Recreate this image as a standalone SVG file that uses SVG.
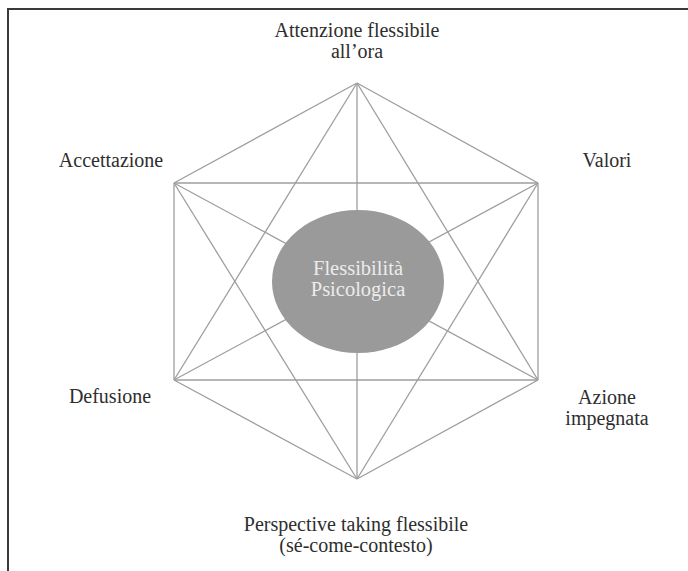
<svg xmlns="http://www.w3.org/2000/svg" width="688" height="571" viewBox="0 0 688 571">
<style>
.lbl{font-family:"Liberation Serif","Times New Roman",serif;font-size:20px;fill:#2e2e2e;text-anchor:middle}
.ctr{font-family:"Liberation Serif","Times New Roman",serif;font-size:20.5px;fill:#ececec;text-anchor:middle}
.edge{stroke:#9e9e9e;stroke-width:1.3;fill:none}
</style>
<rect x="0" y="0" width="688" height="571" fill="#ffffff"/>
<path d="M8,571 V9 H688" fill="none" stroke="#3a3a3a" stroke-width="2"/>
<g id="connectors" class="edge">
<line x1="357" y1="83" x2="174" y2="183"/>
<line x1="357" y1="83" x2="538" y2="183"/>
<line x1="357" y1="83" x2="174" y2="380"/>
<line x1="357" y1="83" x2="538" y2="380"/>
<line x1="357" y1="83" x2="357" y2="479"/>
<line x1="174" y1="183" x2="538" y2="183"/>
<line x1="174" y1="183" x2="174" y2="380"/>
<line x1="174" y1="183" x2="538" y2="380"/>
<line x1="174" y1="183" x2="357" y2="479"/>
<line x1="538" y1="183" x2="538" y2="380"/>
<line x1="538" y1="183" x2="174" y2="380"/>
<line x1="538" y1="183" x2="357" y2="479"/>
<line x1="174" y1="380" x2="538" y2="380"/>
<line x1="174" y1="380" x2="357" y2="479"/>
<line x1="538" y1="380" x2="357" y2="479"/>
</g>
<g id="center">
<ellipse cx="358" cy="281.5" rx="86" ry="71.5" fill="#9a9a9a"/>
<text class="ctr" x="358" y="275">Flessibilità</text>
<text class="ctr" x="358" y="296">Psicologica</text>
</g>
<g id="attenzione">
<text class="lbl" x="357" y="37">Attenzione flessibile</text>
<text class="lbl" x="357" y="58">all’ora</text>
</g>
<g id="accettazione">
<text class="lbl" x="111" y="167">Accettazione</text>
</g>
<g id="valori">
<text class="lbl" x="607" y="167">Valori</text>
</g>
<g id="defusione">
<text class="lbl" x="110" y="403">Defusione</text>
</g>
<g id="azione">
<text class="lbl" x="607" y="404">Azione</text>
<text class="lbl" x="607" y="425">impegnata</text>
</g>
<g id="perspective">
<text class="lbl" x="356" y="531">Perspective taking flessibile</text>
<text class="lbl" x="356" y="552">(sé-come-contesto)</text>
</g>
</svg>
